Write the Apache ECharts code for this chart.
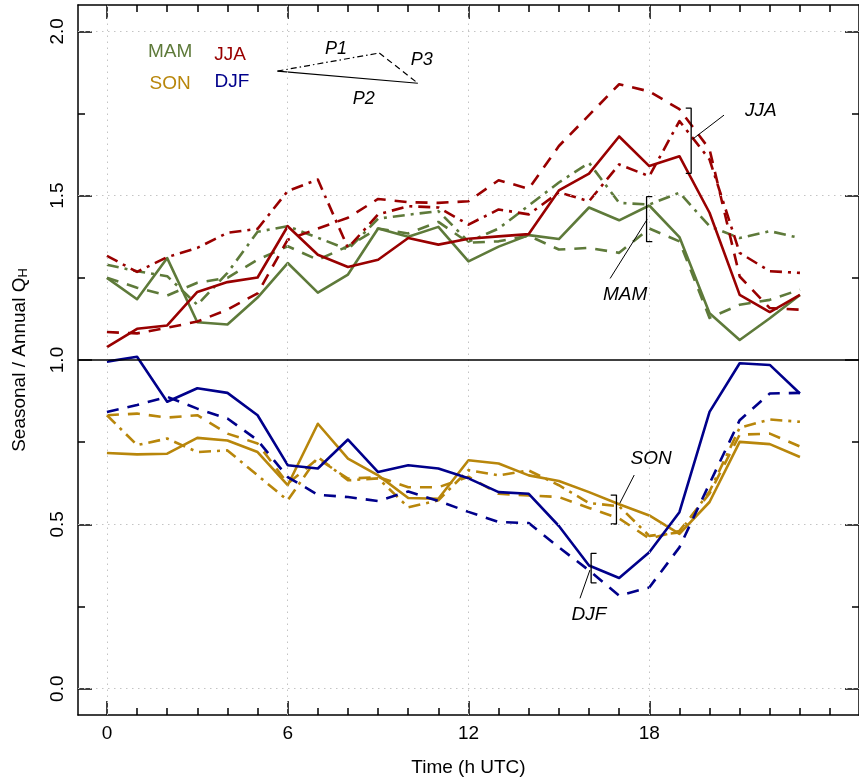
<!DOCTYPE html>
<html><head><meta charset="utf-8">
<script src="https://cdn.jsdelivr.net/npm/echarts@6/dist/echarts.min.js"></script>
<style>html,body{margin:0;padding:0;background:#fff}#c{width:859px;height:783px}</style>
</head><body><div id="c"></div>
<script>
// ---------------- data ----------------
const hours = [0,1,2,3,4,5,6,7,8,9,10,11,12,13,14,15,16,17,18,19,20,21,22,23];

const mamP1 = [1.29,1.27,1.255,1.168,1.265,1.39,1.407,1.372,1.336,1.43,1.442,1.453,1.36,1.40,1.47,1.54,1.60,1.478,1.473,1.509,1.407,1.371,1.392,1.371];
const mamP2 = [1.25,1.185,1.31,1.115,1.108,1.19,1.295,1.205,1.26,1.40,1.375,1.405,1.30,1.345,1.38,1.368,1.464,1.425,1.47,1.374,1.142,1.061,1.127,1.198];
const mamP3 = [1.25,1.22,1.196,1.235,1.25,1.305,1.346,1.305,1.346,1.40,1.385,1.42,1.357,1.361,1.378,1.336,1.341,1.326,1.40,1.361,1.128,1.168,1.183,1.214];

const jjaP1 = [1.317,1.268,1.313,1.341,1.387,1.399,1.514,1.549,1.341,1.443,1.468,1.464,1.412,1.458,1.443,1.51,1.483,1.595,1.559,1.727,1.61,1.326,1.27,1.265];
const jjaP2 = [1.039,1.095,1.105,1.207,1.237,1.251,1.407,1.320,1.283,1.305,1.371,1.351,1.369,1.376,1.383,1.516,1.567,1.680,1.590,1.620,1.448,1.198,1.146,1.198];
const jjaP3 = [1.085,1.081,1.098,1.117,1.153,1.203,1.366,1.40,1.433,1.49,1.48,1.478,1.483,1.547,1.521,1.651,1.745,1.839,1.817,1.763,1.641,1.254,1.158,1.153];

const sonP1 = [0.832,0.741,0.761,0.720,0.725,0.649,0.573,0.705,0.634,0.64,0.552,0.573,0.665,0.649,0.664,0.619,0.565,0.555,0.465,0.475,0.60,0.794,0.819,0.812];
const sonP2 = [0.717,0.713,0.715,0.763,0.755,0.720,0.619,0.806,0.700,0.649,0.580,0.578,0.695,0.685,0.649,0.632,0.598,0.561,0.527,0.471,0.568,0.751,0.744,0.705];
const sonP3 = [0.832,0.837,0.825,0.832,0.776,0.746,0.624,0.70,0.639,0.644,0.613,0.613,0.645,0.593,0.588,0.583,0.55,0.518,0.457,0.48,0.594,0.773,0.776,0.737];

const djfP2 = [0.995,1.010,0.873,0.914,0.900,0.832,0.680,0.670,0.758,0.659,0.680,0.670,0.640,0.598,0.593,0.495,0.375,0.337,0.415,0.537,0.842,0.990,0.985,0.898];
const djfP3 = [0.842,0.863,0.888,0.852,0.822,0.756,0.644,0.590,0.583,0.571,0.60,0.571,0.538,0.507,0.504,0.43,0.36,0.283,0.308,0.43,0.624,0.817,0.898,0.90];

const xMajorTicks = [0,6,12,18];
const xMinorTicks = [0,1,2,3,4,5,6,7,8,9,10,11,12,13,14,15,16,17,18,19,20,21,22,23,24];
const yMajorTicks = [0,0.5,1,1.5,2];
const yMinorTicks = [0,0.25,0.5,0.75,1,1.25,1.5,1.75,2];
const xGridLines = [0,6,12,18];
const yGridLines = [0,0.5,1.5,2];

const seasonNames = ['MAM','JJA','SON','DJF'];
const periodNames = ['P1','P2','P3'];

// ---------------- styles / annotation placement ----------------
const F = "'Liberation Sans', Arial, Helvetica, sans-serif";
const COL = {MAM:'#5e7a3a', JJA:'#990000', SON:'#b8860b', DJF:'#00008b'};
const DASH = {P1:[12,6,3,6], P2:'solid', P3:[12,9]};
const LW = 2.6;

const seasonLegendPos = {MAM:[2.10,1.938], JJA:[4.09,1.930], SON:[2.10,1.840], DJF:[4.15,1.845]};
const keyA = [5.66,1.879], keyB = [9.04,1.934], keyC = [10.32,1.842];
const keyLabelPos = {P1:[7.60,1.946], P2:[8.52,1.795], P3:[10.45,1.912]};
const brackets = [
  {name:'JJA', bar:19.39, tick:19.21, top:1.766, bot:1.568, lead:[[19.44,1.672],[20.48,1.745]], label:[21.70,1.758]},
  {name:'MAM', bar:17.91, tick:18.10, top:1.497, bot:1.360, lead:[[17.93,1.428],[16.70,1.248]], label:[17.20,1.200]},
  {name:'SON', bar:16.91, tick:16.72, top:0.589, bot:0.501, lead:[[17.02,0.564],[17.50,0.650]], label:[18.06,0.700]},
  {name:'DJF', bar:16.07, tick:16.25, top:0.412, bot:0.322, lead:[[16.03,0.361],[15.70,0.275]], label:[16.00,0.226]}
];

const XMIN = -0.96, XMAX = 24.96, YMIN = -0.08, YMAX = 2.08;

// ---------------- build ----------------
const blk = {color:'#000', width:1.5};
function xAx(pos, ticks, len, withLine, withLabel) {
  return {
    type:'value', min:XMIN, max:XMAX, position:pos,
    axisLine:{show:withLine, onZero:false, lineStyle:blk},
    axisTick:{show:true, inside:true, length:len, customValues:ticks, lineStyle:blk},
    axisLabel: withLabel ? {show:true, customValues:xMajorTicks, fontSize:19, color:'#000', fontFamily:F, margin:9} : {show:false},
    splitLine:{show:false}
  };
}
function yAx(pos, ticks, len, withLine, withLabel) {
  return {
    type:'value', min:YMIN, max:YMAX, position:pos,
    axisLine:{show:withLine, onZero:false, lineStyle:blk},
    axisTick:{show:true, inside:true, length:len, customValues:ticks, lineStyle:blk},
    axisLabel: withLabel ? {show:true, customValues:yMajorTicks, rotate:90, fontSize:19, color:'#000', fontFamily:F, margin:11,
                            formatter:v=>Number(v).toFixed(1)} : {show:false},
    splitLine:{show:false}
  };
}

const xAxis = [xAx('bottom',xMajorTicks,14,true,true), xAx('bottom',xMinorTicks,7,false,false),
               xAx('top',xMajorTicks,14,true,false), xAx('top',xMinorTicks,7,false,false)];
xAxis[0].name = 'Time (h UTC)';
xAxis[0].nameLocation = 'middle';
xAxis[0].nameGap = 43;
xAxis[0].nameTextStyle = {fontSize:19, color:'#000', fontFamily:F};

const yAxis = [yAx('left',yMajorTicks,14,true,true), yAx('left',yMinorTicks,7,false,false),
               yAx('right',yMajorTicks,14,true,false), yAx('right',yMinorTicks,7,false,false)];
yAxis[0].name = '{t|Seasonal / Annual Q}{s|H}';
yAxis[0].nameLocation = 'middle';
yAxis[0].nameRotate = 90;
yAxis[0].nameGap = 48;
yAxis[0].nameTextStyle = {rich:{
  t:{fontSize:19, fontFamily:F, color:'#000', verticalAlign:'top', lineHeight:20},
  s:{fontSize:13, fontFamily:F, color:'#000', verticalAlign:'bottom', lineHeight:14, padding:[9,0,0,0]}
}};

const series = [];
// grid lines
series.push({
  type:'line', data:[], silent:true, z:1,
  markLine:{silent:true, symbol:['none','none'], label:{show:false}, animation:false,
    lineStyle:{color:'#c4c4c4', type:[1.5,4.5], width:1},
    data:[...xGridLines.map(v=>({xAxis:v})), ...yGridLines.map(v=>({yAxis:v})),
          {yAxis:1, lineStyle:{color:'#000', type:'solid', width:1.5}}]}
});

const table = {
  MAM:{P1:mamP1, P2:mamP2, P3:mamP3},
  JJA:{P1:jjaP1, P2:jjaP2, P3:jjaP3},
  SON:{P1:sonP1, P2:sonP2, P3:sonP3},
  DJF:{P2:djfP2, P3:djfP3}
};
seasonNames.forEach(s=>{
  periodNames.forEach(p=>{
    const arr = table[s][p];
    if (!arr) return;
    series.push({
      type:'line', name:s+' '+p, z:3, symbol:'none', showSymbol:false, silent:true, animation:false,
      lineStyle:{color:COL[s], width:LW, type:DASH[p], cap:'butt', join:'round'},
      data: hours.map((h,i)=>[h, arr[i]])
    });
  });
});

// period key
const thin = (type)=>({color:'#000', width:1.2, type});
series.push({type:'line', symbol:'none', silent:true, z:4, animation:false, lineStyle:thin([6,3,1.5,3]), data:[keyA,keyB]});
series.push({type:'line', symbol:'none', silent:true, z:4, animation:false, lineStyle:thin('solid'), data:[keyA,keyC]});
series.push({type:'line', symbol:'none', silent:true, z:4, animation:false, lineStyle:thin([6,4]), data:[keyB,keyC]});

// brackets + leaders
brackets.forEach(b=>{
  series.push({type:'line', symbol:'none', silent:true, z:4, animation:false, lineStyle:{color:'#000', width:1.3},
    data:[[b.tick,b.top],[b.bar,b.top],[b.bar,b.bot],[b.tick,b.bot]]});
  series.push({type:'line', symbol:'none', silent:true, z:4, animation:false, lineStyle:{color:'#000', width:1},
    data:b.lead});
});

// texts
function textSeries(items, style) {
  return {type:'scatter', silent:true, z:5, animation:false, symbolSize:1,
    itemStyle:{color:'rgba(0,0,0,0)', opacity:1},
    data: items.map(it=>({value:it.pos, label:{show:true, position:'inside', formatter:it.text, opacity:1,
      color:it.color||'#000', fontSize:style.fontSize, fontStyle:style.fontStyle||'normal', fontFamily:F}}))};
}
series.push(textSeries(seasonNames.map(s=>({text:s, pos:seasonLegendPos[s], color:COL[s]})), {fontSize:19}));
series.push(textSeries(periodNames.map(p=>({text:p, pos:keyLabelPos[p]})), {fontSize:18, fontStyle:'italic'}));
series.push(textSeries(brackets.map(b=>({text:b.name, pos:b.label})), {fontSize:19, fontStyle:'italic'}));

const chart = echarts.init(document.getElementById('c'), null, {renderer:'canvas'});
chart.setOption({
  animation:false,
  backgroundColor:'#fff',
  grid:{left:78, top:5, width:790, height:710, containLabel:false},
  xAxis, yAxis, series
});
</script></body></html>
